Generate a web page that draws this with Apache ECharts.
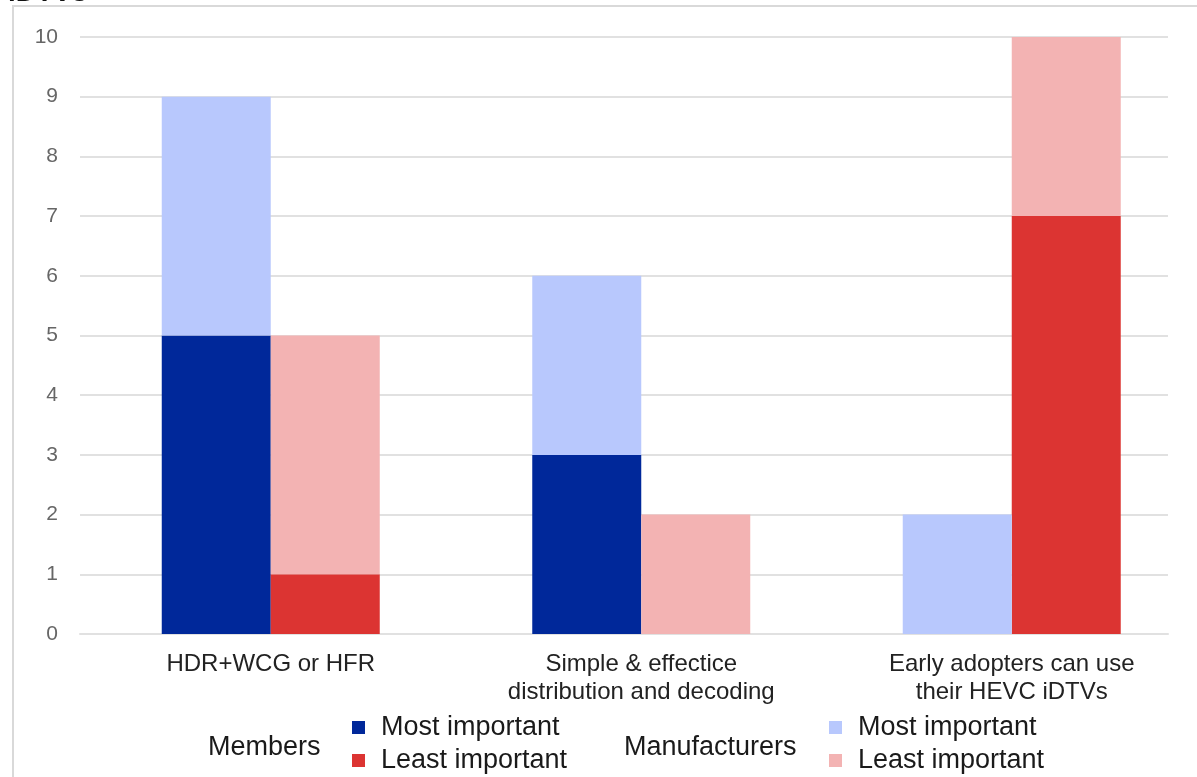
<!DOCTYPE html>
<html>
<head>
<meta charset="utf-8">
<script src="https://cdn.jsdelivr.net/npm/echarts@6/dist/echarts.min.js"></script>
<style>
  html, body { margin: 0; padding: 0; background: #ffffff; }
  #chart { width: 1197px; height: 777px; }
</style>
</head>
<body>
<div id="chart"></div>
<script>
// Criteria compared across the two respondent groups
const categories = [
  'HDR+WCG or HFR',
  'Simple & effectice\ndistribution and decoding',
  'Early adopters can use\ntheir HEVC iDTVs'
];

// Votes per criterion
const membersMost = [5, 3, 0];
const membersLeast = [1, 0, 7];
const manufacturersMost = [4, 3, 2];
const manufacturersLeast = [4, 2, 3];

const yTicks = { min: 0, max: 10, interval: 1 };

const colors = {
  membersMost: '#00289a',
  membersLeast: '#dc3432',
  manufacturersMost: '#b8c8fd',
  manufacturersLeast: '#f3b3b3'
};

const FONT = '"Liberation Sans", Arial, sans-serif';
const gridLine = '#e1e1e1';

const chart = echarts.init(document.getElementById('chart'), null, { renderer: 'canvas' });

const legendBase = {
  orient: 'vertical',
  icon: 'rect',
  itemWidth: 13,
  itemHeight: 13,
  itemGap: 6,
  padding: 0,
  top: 714,
  height: 64,
  textStyle: { fontFamily: FONT, fontSize: 27, lineHeight: 27, color: '#1a1a1a', padding: [0, 0, 0, 11] },
  formatter: function (name) { return name.split(': ')[1]; },
  selectedMode: false
};

const option = {
  animation: false,
  backgroundColor: '#ffffff',
  grid: [
    // bars
    { left: 85.5, right: -3, top: 37, bottom: 143, containLabel: false },
    // value scale and horizontal guide lines
    { left: 80, right: 29, top: 37, bottom: 143, containLabel: false }
  ],
  xAxis: [
    {
      type: 'category',
      gridIndex: 0,
      data: categories,
      axisLine: { show: false },
      axisTick: { show: false },
      axisLabel: {
        fontFamily: FONT,
        fontSize: 24,
        lineHeight: 28,
        color: '#222222',
        margin: 16,
        interval: 0
      }
    },
    {
      type: 'category',
      gridIndex: 1,
      data: categories,
      show: true,
      axisLine: { show: true, lineStyle: { color: gridLine, width: 2 } },
      axisTick: { show: false },
      axisLabel: { show: false }
    }
  ],
  yAxis: [
    {
      type: 'value',
      gridIndex: 0,
      min: yTicks.min,
      max: yTicks.max,
      interval: yTicks.interval,
      show: false
    },
    {
      type: 'value',
      gridIndex: 1,
      min: yTicks.min,
      max: yTicks.max,
      interval: yTicks.interval,
      axisLine: { show: false },
      axisTick: { show: false },
      axisLabel: { fontFamily: FONT, fontSize: 21, color: '#666666', margin: 22 },
      splitLine: { show: true, lineStyle: { color: gridLine, width: 2 } }
    }
  ],
  legend: [
    Object.assign({}, legendBase, {
      left: 352,
      data: ['Members: Most important', 'Members: Least important']
    }),
    Object.assign({}, legendBase, {
      left: 829,
      data: ['Manufacturers: Most important', 'Manufacturers: Least important']
    })
  ],
  graphic: [
    {
      // outer frame
      type: 'rect',
      shape: { x: 13, y: 6, width: 1200, height: 800 },
      style: { fill: 'none', stroke: '#d9d9d9', lineWidth: 2 },
      silent: true
    },
    {
      // tail of the heading above the frame
      type: 'text',
      x: 8,
      y: -7,
      style: { text: 'iDTVs', font: 'bold 28px ' + FONT, fill: '#111111', verticalAlign: 'middle' },
      silent: true
    },
    {
      type: 'text',
      left: 208,
      top: 734,
      style: { text: 'Members', font: '27px ' + FONT, fill: '#1a1a1a' },
      silent: true
    },
    {
      type: 'text',
      left: 624,
      top: 734,
      style: { text: 'Manufacturers', font: '27px ' + FONT, fill: '#1a1a1a' },
      silent: true
    }
  ],
  series: [
    {
      name: 'Members: Most important',
      type: 'bar', stack: 'most', xAxisIndex: 0, yAxisIndex: 0,
      barWidth: 109, barGap: '0%',
      itemStyle: { color: colors.membersMost },
      data: membersMost
    },
    {
      name: 'Members: Least important',
      type: 'bar', stack: 'least', xAxisIndex: 0, yAxisIndex: 0,
      barWidth: 109, barGap: '0%',
      itemStyle: { color: colors.membersLeast },
      data: membersLeast
    },
    {
      name: 'Manufacturers: Most important',
      type: 'bar', stack: 'most', xAxisIndex: 0, yAxisIndex: 0,
      barWidth: 109, barGap: '0%',
      itemStyle: { color: colors.manufacturersMost },
      data: manufacturersMost
    },
    {
      name: 'Manufacturers: Least important',
      type: 'bar', stack: 'least', xAxisIndex: 0, yAxisIndex: 0,
      barWidth: 109, barGap: '0%',
      itemStyle: { color: colors.manufacturersLeast },
      data: manufacturersLeast
    }
  ]
};

chart.setOption(option);
</script>
</body>
</html>
